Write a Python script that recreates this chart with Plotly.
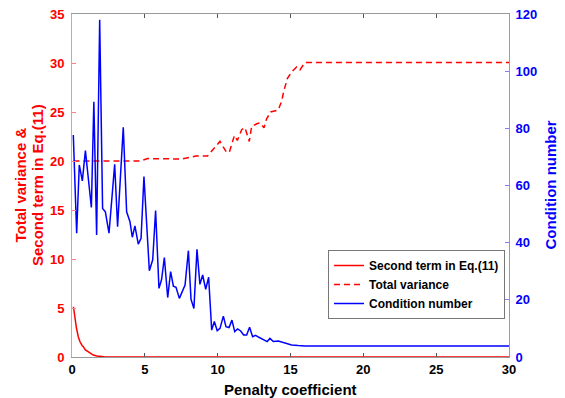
import plotly.graph_objects as go

# Second term in Eq.(11) (left axis)
second_x = [0.1, 0.2, 0.3, 0.43, 0.55, 0.7, 0.78, 0.9, 1.12, 1.3, 1.46, 1.7, 1.92, 2.2, 2.6, 3.0, 30]
second_y = [5.13, 3.78, 3.0, 2.07, 1.55, 1.15, 1.05, 0.75, 0.54, 0.33, 0.2, 0.1, 0.05, 0.02, 0.01, 0.0, 0.0]

# Total variance (left axis)
tv_x = [0.1, 4.7, 5.2, 7.5, 8.5, 9.3, 9.81, 10.16, 10.6, 10.8, 11.15, 11.35, 11.65, 11.87,
        12.17, 12.33, 12.68, 12.9, 13.18, 13.36, 13.64, 13.93, 14.16, 14.39, 14.55, 14.78,
        15.08, 15.42, 15.65, 15.99, 30]
tv_y = [20.0, 20.0, 20.25, 20.2, 20.5, 20.5, 21.4, 22.0, 20.9, 20.9, 22.6, 22.1, 23.2, 23.4,
        22.0, 23.5, 23.8, 23.9, 23.4, 24.3, 25.0, 25.1, 25.2, 26.1, 27.2, 28.4,
        29.1, 29.6, 29.3, 30.05, 30.05]

# Condition number (right axis)
cn_x = [0.09, 0.32, 0.5, 0.71, 0.92, 1.33, 1.5, 1.69, 1.9, 2.1, 2.29, 2.54, 2.93, 3.13, 3.52,
        3.75, 3.98, 4.14, 4.32, 4.55, 4.74, 4.94, 5.31, 5.54, 5.74, 5.97, 6.15, 6.34, 6.57,
        6.77, 6.96, 7.14, 7.37, 7.76, 7.99, 8.17, 8.37, 8.58, 8.78, 8.97, 9.18, 9.38, 9.59,
        9.77, 9.97, 10.16, 10.39, 10.57, 10.78, 10.98, 11.17, 11.37, 11.58, 11.78, 11.99,
        12.19, 12.4, 12.6, 12.83, 13.13, 13.4, 13.59, 13.82, 14.16, 14.46, 14.74, 15.08,
        15.53, 16.0, 30]
cn_y = [77.7, 43.3, 67.2, 61.6, 72.2, 52.3, 89.3, 42.7, 118, 52, 50.8, 43.3, 67.4, 45.6, 80.4,
        50.8, 47.3, 41.9, 45.9, 39.5, 41.5, 63.1, 30.2, 34, 51.2, 24, 27.1, 34.8, 20.8,
        29.9, 24.8, 24.4, 20.5, 25.2, 37.2, 20.2, 17, 37.7, 25.4, 28.7, 23.7, 27.9, 9.4,
        12.4, 9.2, 10, 14.3, 10.6, 10.3, 12.9, 8.9, 9.8, 9.1, 7.7, 7.7,
        10.4, 7.1, 7.6, 6.9, 6.2, 5.4, 6.5, 5.4, 5.6, 5.1, 4.8, 4.2,
        4.0, 3.85, 3.85]

x_ticks = [0, 5, 10, 15, 20, 25, 30]
left_ticks = [0, 5, 10, 15, 20, 25, 30, 35]
right_ticks = [0, 20, 40, 60, 80, 100, 120]

left_title_lines = ["Total variance &", "Second term in Eq.(11)"]
right_title = "Condition number"
x_title = "Penalty coefficient"

FONT = "Liberation Sans, Arial, sans-serif"
RED = "#ff0000"
BLUE = "#0000ff"

fig = go.Figure()
fig.add_trace(go.Scatter(x=second_x, y=second_y, mode="lines", name="Second term in Eq.(11)",
                         line=dict(color=RED, width=1.5)))
fig.add_trace(go.Scatter(x=tv_x, y=tv_y, mode="lines", name="Total variance",
                         line=dict(color=RED, width=1.5, dash="6px,4px")))
fig.add_trace(go.Scatter(x=cn_x, y=cn_y, mode="lines", name="Condition number",
                         line=dict(color=BLUE, width=1.5), yaxis="y2"))

# page body has an 8px margin, so the figure is offset by (8, 8) in the window
PL, PT = 72, 14          # desired plot-area left/top in window pixels
PW, PH = 437.0, 343.0    # plot-area size
OFF = 8

annotations = [
    dict(text=left_title_lines[0], x=(20 - PL) / PW, y=0.5, xref="paper", yref="paper",
         textangle=-90, showarrow=False, xanchor="center", yanchor="middle",
         font=dict(family=FONT, size=15, color=RED, weight="bold")),
    dict(text=left_title_lines[1], x=(37.5 - PL) / PW, y=0.5, xref="paper", yref="paper",
         textangle=-90, showarrow=False, xanchor="center", yanchor="middle",
         font=dict(family=FONT, size=15, color=RED, weight="bold")),
    dict(text=right_title, x=(550 - PL) / PW, y=0.5, xref="paper", yref="paper",
         textangle=-90, showarrow=False, xanchor="center", yanchor="middle",
         font=dict(family=FONT, size=15, color=BLUE, weight="bold")),
    dict(text=x_title, x=0.5, y=-(390 - (PT + PH)) / PH, xref="paper", yref="paper",
         showarrow=False, xanchor="center", yanchor="middle",
         font=dict(family=FONT, size=15, color="black", weight="bold")),
]

W, H = 565 - OFF, 398 - OFF
ml, mt = PL - OFF, PT - OFF
mr = W - ml - int(PW)
mb = H - mt - int(PH)

fig.update_layout(
    template="none",
    width=W, height=H,
    margin=dict(l=ml, r=mr, t=mt, b=mb, autoexpand=False),
    paper_bgcolor="white", plot_bgcolor="white",
    font=dict(family=FONT, size=13, color="black", weight="bold"),
    showlegend=True,
    annotations=annotations,
    legend=dict(x=(328 - PL) / PW, y=(PT + PH - 250) / PH, xanchor="left", yanchor="top",
                bgcolor="white", bordercolor="#777777", borderwidth=1,
                font=dict(family=FONT, size=12, color="black", weight="bold"),
                itemwidth=30, tracegroupgap=0),
    xaxis=dict(range=[0, 30], tickvals=x_ticks, ticks="inside", ticklen=4, tickcolor="#555555",
               showline=True, linecolor="#999999", linewidth=1, mirror="ticks",
               showgrid=False, zeroline=False, automargin=False, ticklabeloverflow="allow",
               tickfont=dict(family=FONT, size=13, color="black", weight="bold")),
    yaxis=dict(range=[0, 35], tickvals=left_ticks, ticks="inside", ticklen=4, tickcolor="#ff8080",
               showline=True, linecolor="#ff9090", linewidth=1,
               showgrid=False, zeroline=False, automargin=False, ticklabelstandoff=4,
               ticklabeloverflow="allow",
               tickfont=dict(family=FONT, size=13, color=RED, weight="bold")),
    yaxis2=dict(range=[0, 120], tickvals=right_ticks, ticks="inside", ticklen=4, tickcolor="#8080ff",
                overlaying="y", side="right",
                showline=True, linecolor="#8f8fff", linewidth=1,
                showgrid=False, zeroline=False, automargin=False, ticklabelstandoff=3,
                ticklabeloverflow="allow",
                tickfont=dict(family=FONT, size=13, color=BLUE, weight="bold")),
)

fig.write_html("out.html")
